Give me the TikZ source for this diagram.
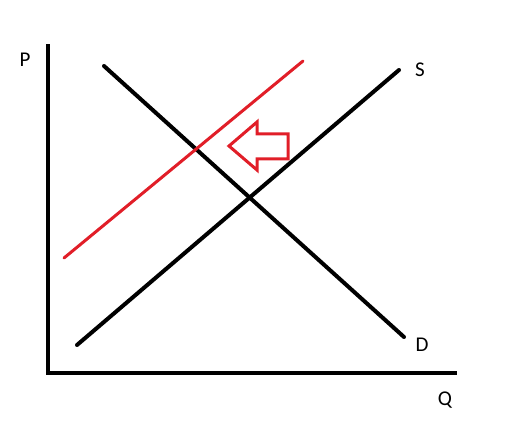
\documentclass[tikz,border=0pt]{standalone}
\usepackage{fontspec}
\setmainfont{Carlito}
\usetikzlibrary{positioning}
\definecolor{shiftred}{RGB}{225,30,40}
\tikzset{
  achse/.style={draw=black, line width=4pt, line cap=rect},
  kurve/.style={draw=black, line width=4pt, line cap=round},
  neukurve/.style={draw=shiftred, line width=3pt, line cap=round},
  pfeil/.style={draw=shiftred, line width=3pt, line join=miter},
  beschriftung/.style={font=\fontsize{21}{21}\selectfont, inner sep=0pt}
}

\begin{document}
\begin{tikzpicture}[x=1pt, y=-1pt]
\useasboundingbox (0,0) rectangle (526,443);

% axes
\coordinate (ursprung) at (48,373);
\coordinate (ptop) at (48,46);
\coordinate (qend) at (455,373);
\draw[achse] (ptop) -- (ursprung) -- (qend);
\node[beschriftung] (plabel) at (25,60) {P};
\node[beschriftung] (qlabel) at (445,400) {Q};

% demand and supply
\coordinate (dstart) at (104,66);
\coordinate (dend) at (404,337);
\coordinate (sstart) at (77,345);
\coordinate (send) at (399,70);
\draw[kurve] (dstart) -- (dend);
\draw[kurve] (sstart) -- (send);
\node[beschriftung] (slabel) at (420,70) {S};
\node[beschriftung] (dlabel) at (422,345) {D};

% shifted supply
\coordinate (s2start) at (64,258);
\coordinate (s2end) at (303,61);
\draw[neukurve] (s2start) -- (s2end);

% shift arrow
\draw[pfeil] (288,134) -- (257,134) -- (257,122) -- (229,146) -- (257,170) -- (257,159) -- (288,159) -- cycle;

\end{tikzpicture}
\end{document}
